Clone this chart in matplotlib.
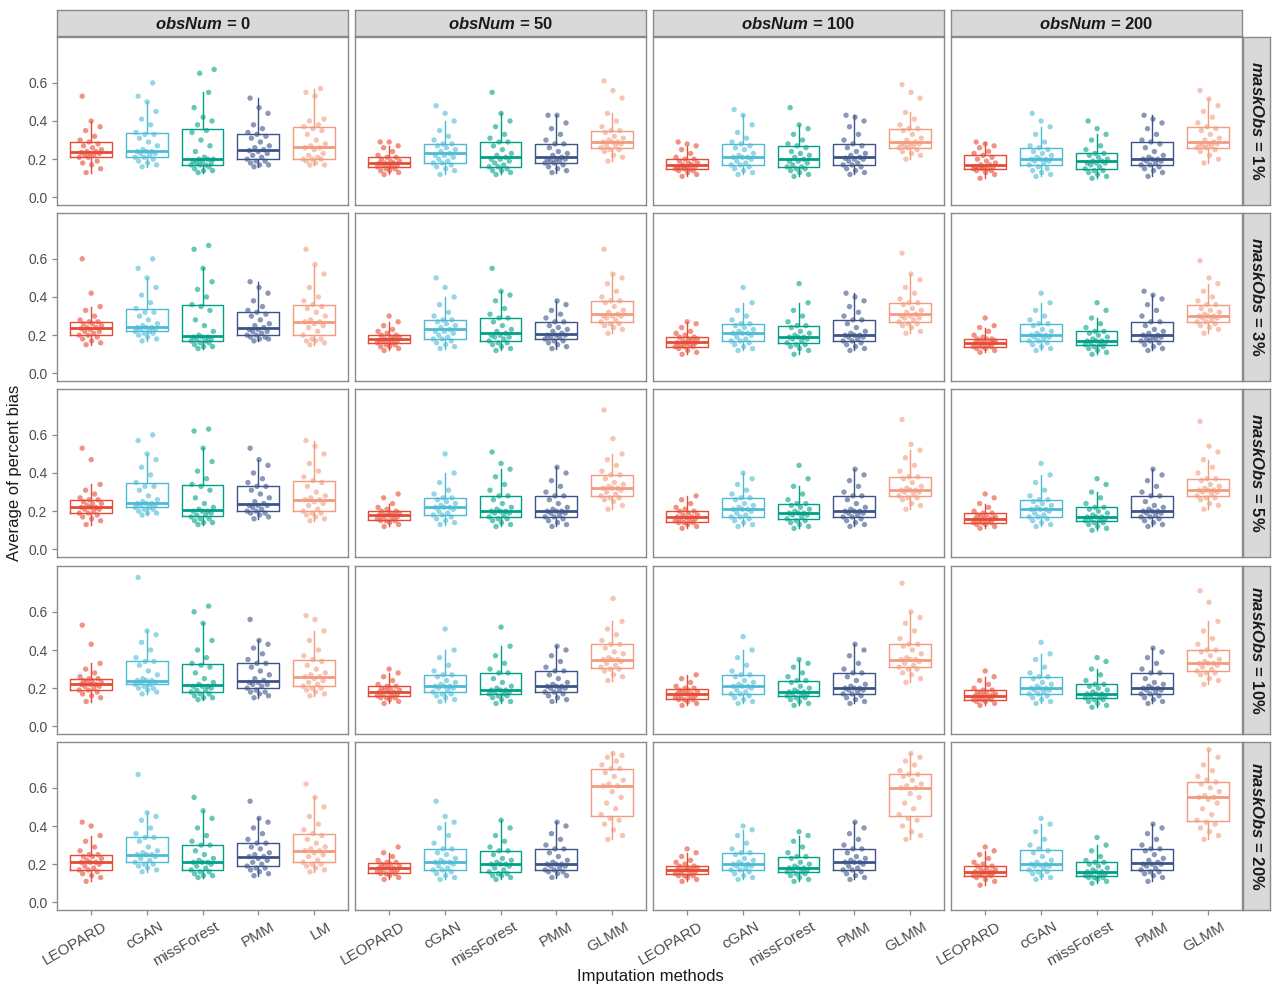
import matplotlib
matplotlib.use("Agg")
import matplotlib.pyplot as plt
import numpy as np

plt.rcParams['font.family'] = ['Liberation Sans', 'DejaVu Sans']
plt.rcParams['mathtext.fontset'] = 'custom'
plt.rcParams['mathtext.it'] = 'Liberation Sans:italic:bold'
plt.rcParams['mathtext.rm'] = 'Liberation Sans:bold'

# ---------------- data ----------------
obs_nums = [0, 50, 100, 200]
mask_obs = ["1%", "3%", "5%", "10%", "20%"]
methods_n0 = ["LEOPARD", "cGAN", "missForest", "PMM", "LM"]
methods_other = ["LEOPARD", "cGAN", "missForest", "PMM", "GLMM"]
colors = ["#E64B35", "#4DBBD5", "#00A087", "#3C5488", "#F39B7F"]
yticks = [0.0, 0.2, 0.4, 0.6]
ytick_labels = ["0.0", "0.2", "0.4", "0.6"]

# maskObs = 1%
m1_n0 = [
    [0.13,0.15,0.17,0.18,0.19,0.21,0.21,0.22,0.22,0.23,0.23,0.235,0.24,0.24,0.25,0.26,0.27,0.28,0.29,0.30,0.32,0.35,0.37,0.40,0.53],
    [0.16,0.17,0.18,0.19,0.20,0.21,0.21,0.22,0.23,0.23,0.24,0.24,0.24,0.25,0.27,0.29,0.31,0.33,0.33,0.34,0.38,0.41,0.45,0.50,0.53,0.60],
    [0.13,0.14,0.14,0.15,0.16,0.17,0.17,0.17,0.18,0.18,0.19,0.19,0.20,0.20,0.20,0.21,0.24,0.27,0.30,0.34,0.35,0.38,0.40,0.42,0.47,0.55,0.65,0.67],
    [0.16,0.17,0.17,0.18,0.19,0.19,0.20,0.21,0.22,0.23,0.24,0.245,0.25,0.26,0.27,0.29,0.31,0.32,0.33,0.34,0.36,0.38,0.44,0.47,0.52],
    [0.17,0.17,0.18,0.19,0.20,0.20,0.20,0.21,0.22,0.23,0.25,0.26,0.26,0.27,0.28,0.30,0.33,0.35,0.36,0.37,0.38,0.40,0.41,0.53,0.55,0.57],
]
m1_n50 = [
    [0.12,0.13,0.14,0.14,0.15,0.15,0.16,0.16,0.17,0.17,0.17,0.18,0.18,0.18,0.19,0.19,0.20,0.21,0.21,0.22,0.24,0.26,0.27,0.29,0.29],
    [0.12,0.14,0.15,0.16,0.17,0.18,0.18,0.19,0.20,0.21,0.22,0.22,0.23,0.24,0.25,0.26,0.27,0.28,0.28,0.30,0.32,0.35,0.40,0.44,0.48],
    [0.12,0.13,0.14,0.14,0.15,0.16,0.16,0.17,0.18,0.19,0.20,0.20,0.21,0.22,0.23,0.25,0.27,0.29,0.29,0.31,0.33,0.37,0.40,0.44,0.55],
    [0.13,0.14,0.15,0.16,0.17,0.18,0.18,0.19,0.19,0.20,0.20,0.20,0.21,0.22,0.23,0.24,0.26,0.28,0.28,0.30,0.33,0.36,0.39,0.43,0.43],
    [0.19,0.21,0.22,0.24,0.25,0.25,0.26,0.27,0.27,0.28,0.29,0.29,0.29,0.30,0.31,0.32,0.34,0.35,0.35,0.37,0.40,0.44,0.52,0.56,0.61],
]
m1_n100 = [
    [0.11,0.12,0.13,0.14,0.14,0.15,0.15,0.15,0.16,0.16,0.16,0.16,0.17,0.17,0.18,0.18,0.19,0.20,0.20,0.21,0.23,0.25,0.27,0.28,0.29],
    [0.12,0.13,0.14,0.15,0.16,0.17,0.17,0.18,0.19,0.20,0.21,0.21,0.21,0.22,0.23,0.25,0.26,0.27,0.28,0.29,0.31,0.34,0.38,0.43,0.46],
    [0.11,0.12,0.13,0.14,0.15,0.15,0.16,0.16,0.17,0.18,0.19,0.19,0.20,0.21,0.22,0.23,0.24,0.26,0.27,0.28,0.30,0.33,0.36,0.38,0.47],
    [0.12,0.13,0.14,0.15,0.16,0.17,0.17,0.18,0.19,0.20,0.20,0.205,0.21,0.22,0.23,0.24,0.26,0.27,0.28,0.30,0.33,0.37,0.40,0.42,0.43],
    [0.20,0.22,0.23,0.24,0.25,0.26,0.26,0.27,0.27,0.28,0.28,0.28,0.29,0.30,0.31,0.33,0.35,0.36,0.36,0.38,0.41,0.445,0.52,0.55,0.59],
]
m1_n200 = [
    [0.10,0.12,0.13,0.14,0.14,0.15,0.15,0.15,0.155,0.16,0.16,0.16,0.17,0.17,0.18,0.19,0.20,0.21,0.22,0.23,0.24,0.26,0.27,0.28,0.29],
    [0.11,0.12,0.13,0.14,0.15,0.16,0.17,0.18,0.19,0.19,0.20,0.20,0.20,0.21,0.22,0.23,0.24,0.25,0.26,0.27,0.29,0.33,0.37,0.40,0.44],
    [0.10,0.11,0.12,0.13,0.14,0.14,0.15,0.16,0.17,0.18,0.18,0.18,0.19,0.19,0.20,0.21,0.22,0.23,0.23,0.25,0.27,0.30,0.33,0.36,0.40],
    [0.11,0.13,0.14,0.15,0.16,0.17,0.17,0.18,0.19,0.19,0.20,0.20,0.20,0.21,0.22,0.24,0.26,0.28,0.29,0.30,0.33,0.36,0.39,0.41,0.43],
    [0.18,0.20,0.22,0.24,0.25,0.26,0.26,0.27,0.27,0.28,0.28,0.28,0.29,0.30,0.31,0.33,0.35,0.36,0.37,0.39,0.42,0.45,0.48,0.515,0.56],
]

# maskObs = 3%
m3_n0 = [
    [0.15,0.16,0.17,0.18,0.19,0.20,0.20,0.21,0.22,0.22,0.23,0.235,0.24,0.24,0.25,0.26,0.26,0.27,0.27,0.28,0.30,0.33,0.35,0.42,0.60],
    [0.17,0.18,0.19,0.20,0.21,0.21,0.22,0.22,0.23,0.23,0.24,0.24,0.24,0.25,0.26,0.28,0.30,0.32,0.32,0.34,0.37,0.41,0.45,0.50,0.55,0.60],
    [0.13,0.14,0.14,0.15,0.16,0.16,0.17,0.17,0.18,0.18,0.19,0.19,0.19,0.20,0.22,0.25,0.28,0.33,0.35,0.36,0.40,0.44,0.48,0.55,0.65,0.67],
    [0.17,0.18,0.18,0.19,0.19,0.20,0.20,0.21,0.22,0.22,0.23,0.23,0.24,0.25,0.26,0.28,0.30,0.31,0.32,0.33,0.35,0.38,0.42,0.45,0.48],
    [0.15,0.16,0.17,0.17,0.18,0.18,0.20,0.22,0.24,0.25,0.26,0.27,0.27,0.28,0.30,0.32,0.34,0.35,0.36,0.38,0.40,0.45,0.52,0.57,0.65],
]
m3_n50 = [
    [0.12,0.13,0.14,0.14,0.15,0.15,0.16,0.16,0.17,0.17,0.17,0.175,0.18,0.18,0.19,0.19,0.20,0.20,0.21,0.22,0.23,0.25,0.27,0.30],
    [0.13,0.14,0.15,0.16,0.17,0.18,0.18,0.19,0.20,0.21,0.22,0.22,0.23,0.24,0.25,0.26,0.27,0.28,0.28,0.30,0.32,0.36,0.40,0.45,0.50],
    [0.12,0.13,0.14,0.15,0.16,0.16,0.17,0.18,0.19,0.19,0.20,0.20,0.21,0.22,0.23,0.25,0.27,0.29,0.29,0.31,0.34,0.38,0.41,0.43,0.55],
    [0.13,0.14,0.15,0.16,0.17,0.17,0.18,0.19,0.19,0.20,0.20,0.20,0.21,0.22,0.23,0.24,0.25,0.27,0.27,0.29,0.31,0.33,0.36,0.38],
    [0.21,0.23,0.24,0.25,0.26,0.26,0.27,0.28,0.29,0.30,0.30,0.30,0.31,0.32,0.33,0.35,0.37,0.38,0.38,0.40,0.43,0.47,0.50,0.52,0.65],
]
m3_n100 = [
    [0.10,0.11,0.12,0.13,0.14,0.14,0.14,0.15,0.15,0.16,0.16,0.16,0.17,0.17,0.18,0.18,0.19,0.19,0.20,0.21,0.22,0.24,0.26,0.27],
    [0.12,0.13,0.14,0.15,0.16,0.17,0.17,0.18,0.19,0.20,0.21,0.21,0.21,0.22,0.23,0.24,0.25,0.26,0.26,0.28,0.30,0.33,0.37,0.45],
    [0.10,0.12,0.13,0.14,0.15,0.15,0.16,0.17,0.18,0.18,0.19,0.19,0.19,0.20,0.21,0.22,0.24,0.25,0.25,0.27,0.30,0.33,0.37,0.47],
    [0.12,0.13,0.14,0.15,0.16,0.17,0.17,0.18,0.19,0.19,0.20,0.20,0.20,0.21,0.22,0.24,0.26,0.28,0.28,0.30,0.32,0.35,0.38,0.40,0.42],
    [0.21,0.22,0.24,0.25,0.26,0.26,0.27,0.28,0.29,0.29,0.30,0.30,0.31,0.32,0.33,0.34,0.36,0.37,0.37,0.39,0.42,0.45,0.49,0.52,0.63],
]
m3_n200 = [
    [0.11,0.12,0.13,0.13,0.14,0.14,0.14,0.15,0.15,0.16,0.16,0.16,0.16,0.17,0.17,0.18,0.18,0.18,0.19,0.20,0.22,0.24,0.25,0.29],
    [0.12,0.13,0.14,0.15,0.16,0.17,0.17,0.18,0.19,0.19,0.20,0.20,0.20,0.21,0.22,0.23,0.25,0.26,0.26,0.28,0.30,0.33,0.37,0.42],
    [0.10,0.11,0.12,0.13,0.14,0.14,0.15,0.15,0.16,0.16,0.17,0.17,0.17,0.18,0.19,0.20,0.21,0.22,0.22,0.24,0.26,0.29,0.33,0.37],
    [0.12,0.13,0.14,0.15,0.16,0.17,0.17,0.18,0.18,0.19,0.19,0.20,0.20,0.21,0.22,0.23,0.25,0.27,0.27,0.30,0.33,0.36,0.39,0.41,0.43],
    [0.21,0.23,0.24,0.25,0.26,0.27,0.27,0.28,0.29,0.29,0.30,0.30,0.30,0.31,0.32,0.33,0.34,0.36,0.36,0.38,0.40,0.43,0.47,0.50,0.59],
]

# maskObs = 5%
m5_n0 = [
    [0.13,0.15,0.16,0.17,0.18,0.19,0.19,0.20,0.21,0.21,0.22,0.22,0.22,0.23,0.24,0.24,0.25,0.26,0.26,0.27,0.29,0.31,0.34,0.47,0.53],
    [0.18,0.19,0.19,0.20,0.21,0.21,0.22,0.22,0.23,0.23,0.24,0.24,0.24,0.25,0.26,0.28,0.31,0.33,0.33,0.35,0.39,0.43,0.47,0.50,0.57,0.60],
    [0.13,0.14,0.14,0.15,0.16,0.16,0.17,0.18,0.18,0.19,0.20,0.20,0.20,0.21,0.22,0.24,0.27,0.31,0.33,0.34,0.37,0.41,0.46,0.53,0.62,0.63],
    [0.16,0.17,0.18,0.19,0.19,0.20,0.20,0.21,0.22,0.23,0.23,0.23,0.24,0.25,0.27,0.29,0.31,0.33,0.33,0.35,0.37,0.40,0.44,0.47,0.53],
    [0.15,0.16,0.17,0.18,0.19,0.19,0.20,0.21,0.23,0.24,0.25,0.26,0.26,0.27,0.28,0.30,0.33,0.35,0.36,0.38,0.41,0.45,0.50,0.54,0.57],
]
m5_n50 = [
    [0.12,0.13,0.14,0.15,0.15,0.15,0.16,0.16,0.17,0.17,0.18,0.18,0.18,0.18,0.19,0.19,0.20,0.20,0.21,0.22,0.24,0.27,0.29],
    [0.13,0.14,0.15,0.16,0.17,0.18,0.18,0.19,0.20,0.21,0.22,0.22,0.22,0.23,0.24,0.25,0.26,0.27,0.27,0.29,0.31,0.35,0.40,0.50],
    [0.12,0.13,0.14,0.15,0.16,0.16,0.17,0.18,0.19,0.19,0.20,0.20,0.20,0.21,0.22,0.24,0.26,0.28,0.28,0.31,0.34,0.38,0.42,0.45,0.51],
    [0.12,0.13,0.14,0.15,0.16,0.17,0.17,0.18,0.19,0.19,0.20,0.20,0.20,0.21,0.22,0.24,0.26,0.28,0.28,0.30,0.33,0.36,0.40,0.43],
    [0.21,0.23,0.25,0.26,0.27,0.27,0.28,0.29,0.30,0.31,0.32,0.32,0.32,0.33,0.34,0.35,0.37,0.39,0.39,0.41,0.44,0.47,0.50,0.58,0.73],
]
m5_n100 = [
    [0.11,0.12,0.13,0.14,0.14,0.14,0.15,0.15,0.16,0.16,0.165,0.17,0.17,0.18,0.18,0.19,0.20,0.20,0.21,0.22,0.24,0.26,0.28],
    [0.12,0.13,0.14,0.15,0.16,0.17,0.17,0.18,0.19,0.20,0.21,0.21,0.21,0.22,0.23,0.24,0.26,0.27,0.27,0.29,0.31,0.34,0.37,0.40],
    [0.11,0.12,0.13,0.14,0.15,0.15,0.16,0.17,0.18,0.18,0.19,0.19,0.19,0.20,0.21,0.22,0.23,0.24,0.24,0.26,0.29,0.33,0.37,0.44],
    [0.12,0.13,0.14,0.15,0.16,0.17,0.17,0.18,0.19,0.19,0.20,0.20,0.20,0.21,0.22,0.24,0.26,0.28,0.28,0.30,0.33,0.36,0.39,0.42],
    [0.21,0.23,0.24,0.26,0.27,0.27,0.28,0.29,0.30,0.30,0.31,0.31,0.31,0.32,0.33,0.35,0.37,0.38,0.38,0.41,0.44,0.48,0.52,0.55,0.68],
]
m5_n200 = [
    [0.11,0.12,0.13,0.13,0.14,0.14,0.14,0.15,0.15,0.16,0.16,0.16,0.16,0.17,0.17,0.18,0.18,0.19,0.19,0.20,0.22,0.24,0.27,0.29],
    [0.12,0.13,0.14,0.15,0.16,0.17,0.17,0.18,0.19,0.20,0.21,0.21,0.21,0.22,0.23,0.24,0.25,0.26,0.26,0.28,0.31,0.35,0.39,0.45],
    [0.10,0.11,0.12,0.13,0.14,0.14,0.15,0.15,0.16,0.16,0.17,0.17,0.17,0.18,0.19,0.20,0.21,0.22,0.22,0.24,0.27,0.30,0.34,0.37],
    [0.12,0.13,0.14,0.15,0.16,0.17,0.17,0.18,0.19,0.19,0.20,0.20,0.20,0.21,0.22,0.23,0.25,0.28,0.28,0.30,0.33,0.36,0.39,0.42],
    [0.21,0.23,0.24,0.26,0.27,0.27,0.28,0.29,0.30,0.30,0.31,0.31,0.31,0.32,0.33,0.34,0.36,0.37,0.37,0.40,0.43,0.47,0.51,0.54,0.67],
]

# maskObs = 10%
m10_n0 = [
    [0.13,0.15,0.16,0.17,0.18,0.19,0.19,0.20,0.21,0.21,0.22,0.22,0.22,0.23,0.23,0.24,0.24,0.25,0.25,0.26,0.28,0.30,0.33,0.43,0.53],
    [0.17,0.18,0.19,0.20,0.20,0.21,0.22,0.22,0.23,0.23,0.24,0.24,0.24,0.25,0.27,0.29,0.32,0.34,0.34,0.36,0.40,0.44,0.48,0.50,0.78],
    [0.14,0.15,0.15,0.16,0.17,0.17,0.18,0.19,0.19,0.20,0.21,0.21,0.21,0.22,0.23,0.25,0.28,0.31,0.32,0.33,0.36,0.40,0.45,0.54,0.60,0.63],
    [0.15,0.16,0.17,0.18,0.18,0.19,0.20,0.21,0.22,0.22,0.23,0.23,0.24,0.25,0.27,0.29,0.31,0.33,0.33,0.35,0.38,0.41,0.43,0.45,0.56],
    [0.16,0.17,0.18,0.19,0.20,0.20,0.21,0.22,0.23,0.24,0.25,0.26,0.26,0.27,0.28,0.30,0.32,0.34,0.35,0.37,0.40,0.45,0.50,0.56,0.58],
]
m10_n50 = [
    [0.12,0.13,0.14,0.15,0.15,0.15,0.16,0.16,0.17,0.17,0.18,0.18,0.18,0.19,0.19,0.20,0.20,0.21,0.21,0.22,0.24,0.26,0.28,0.30],
    [0.13,0.14,0.15,0.16,0.17,0.17,0.18,0.19,0.20,0.20,0.21,0.21,0.21,0.22,0.23,0.24,0.26,0.27,0.27,0.29,0.32,0.36,0.40,0.51],
    [0.12,0.13,0.14,0.15,0.16,0.16,0.17,0.17,0.18,0.18,0.19,0.19,0.19,0.20,0.21,0.23,0.25,0.28,0.28,0.30,0.33,0.37,0.42,0.52],
    [0.13,0.14,0.15,0.16,0.17,0.18,0.18,0.19,0.20,0.20,0.21,0.21,0.21,0.22,0.23,0.25,0.27,0.29,0.29,0.31,0.34,0.37,0.40,0.42],
    [0.24,0.26,0.27,0.29,0.30,0.30,0.31,0.32,0.33,0.34,0.35,0.35,0.35,0.36,0.38,0.39,0.41,0.43,0.43,0.45,0.48,0.51,0.55,0.67],
]
m10_n100 = [
    [0.11,0.12,0.13,0.14,0.14,0.14,0.15,0.15,0.16,0.16,0.17,0.17,0.17,0.18,0.18,0.19,0.19,0.20,0.20,0.21,0.23,0.25,0.27],
    [0.12,0.13,0.14,0.15,0.16,0.17,0.17,0.18,0.19,0.20,0.21,0.21,0.21,0.22,0.23,0.24,0.26,0.27,0.27,0.29,0.32,0.36,0.40,0.47],
    [0.11,0.12,0.13,0.14,0.15,0.15,0.16,0.16,0.17,0.17,0.18,0.18,0.18,0.19,0.20,0.21,0.23,0.24,0.24,0.26,0.28,0.31,0.33,0.35],
    [0.12,0.13,0.14,0.15,0.16,0.17,0.17,0.18,0.19,0.19,0.20,0.20,0.20,0.21,0.22,0.24,0.26,0.28,0.28,0.30,0.33,0.37,0.40,0.43],
    [0.23,0.25,0.27,0.28,0.30,0.30,0.31,0.32,0.33,0.34,0.35,0.35,0.35,0.36,0.38,0.40,0.42,0.43,0.43,0.46,0.50,0.54,0.57,0.60,0.75],
]
m10_n200 = [
    [0.11,0.12,0.13,0.13,0.14,0.14,0.14,0.15,0.15,0.16,0.16,0.16,0.16,0.17,0.17,0.18,0.18,0.19,0.19,0.20,0.22,0.24,0.26,0.29],
    [0.12,0.13,0.14,0.15,0.16,0.17,0.17,0.18,0.19,0.19,0.20,0.20,0.20,0.21,0.22,0.23,0.25,0.26,0.26,0.28,0.31,0.35,0.38,0.44],
    [0.10,0.11,0.12,0.13,0.14,0.14,0.15,0.15,0.16,0.16,0.17,0.17,0.17,0.18,0.19,0.20,0.21,0.22,0.22,0.24,0.27,0.30,0.34,0.36],
    [0.12,0.13,0.14,0.15,0.16,0.17,0.17,0.18,0.19,0.19,0.20,0.20,0.20,0.21,0.22,0.23,0.25,0.28,0.28,0.30,0.33,0.36,0.39,0.41],
    [0.22,0.24,0.25,0.27,0.28,0.28,0.29,0.30,0.31,0.32,0.33,0.33,0.33,0.34,0.35,0.37,0.39,0.40,0.40,0.43,0.46,0.50,0.55,0.65,0.71],
]

# maskObs = 20%
m20_n0 = [
    [0.11,0.13,0.14,0.15,0.16,0.17,0.17,0.18,0.19,0.20,0.21,0.21,0.21,0.22,0.23,0.24,0.24,0.25,0.25,0.27,0.29,0.32,0.35,0.40,0.42],
    [0.16,0.17,0.18,0.19,0.20,0.20,0.21,0.22,0.23,0.24,0.25,0.25,0.25,0.26,0.27,0.29,0.32,0.34,0.34,0.36,0.39,0.43,0.45,0.47,0.67],
    [0.13,0.14,0.14,0.15,0.16,0.16,0.17,0.18,0.19,0.20,0.21,0.21,0.21,0.22,0.23,0.25,0.27,0.30,0.30,0.32,0.35,0.39,0.44,0.48,0.55],
    [0.14,0.15,0.16,0.17,0.18,0.18,0.19,0.20,0.21,0.22,0.23,0.24,0.24,0.25,0.26,0.28,0.29,0.31,0.31,0.33,0.36,0.39,0.42,0.44,0.53],
    [0.16,0.17,0.18,0.19,0.20,0.20,0.21,0.22,0.24,0.25,0.26,0.27,0.27,0.28,0.29,0.31,0.33,0.35,0.36,0.38,0.41,0.45,0.50,0.55,0.62],
]
m20_n50 = [
    [0.12,0.13,0.14,0.15,0.15,0.15,0.16,0.16,0.17,0.17,0.18,0.18,0.18,0.19,0.19,0.20,0.20,0.21,0.21,0.22,0.24,0.26,0.29],
    [0.12,0.13,0.14,0.15,0.16,0.17,0.17,0.18,0.19,0.20,0.21,0.21,0.21,0.22,0.23,0.25,0.26,0.28,0.28,0.31,0.35,0.39,0.42,0.45,0.53],
    [0.12,0.13,0.14,0.14,0.15,0.15,0.16,0.17,0.18,0.19,0.20,0.20,0.20,0.21,0.22,0.23,0.25,0.27,0.27,0.29,0.32,0.35,0.39,0.43],
    [0.13,0.14,0.15,0.16,0.16,0.17,0.17,0.18,0.19,0.19,0.20,0.20,0.20,0.21,0.22,0.24,0.26,0.28,0.28,0.30,0.33,0.36,0.40,0.42],
    [0.33,0.35,0.38,0.41,0.43,0.44,0.46,0.49,0.52,0.55,0.58,0.61,0.61,0.62,0.64,0.66,0.68,0.70,0.70,0.72,0.74,0.76,0.77,0.78],
]
m20_n100 = [
    [0.11,0.12,0.13,0.14,0.14,0.14,0.15,0.15,0.16,0.16,0.17,0.17,0.17,0.17,0.18,0.18,0.19,0.19,0.20,0.21,0.22,0.24,0.26,0.28],
    [0.12,0.13,0.14,0.15,0.16,0.17,0.17,0.18,0.19,0.19,0.20,0.20,0.20,0.21,0.22,0.23,0.25,0.26,0.26,0.28,0.31,0.35,0.38,0.40],
    [0.11,0.12,0.13,0.14,0.15,0.15,0.16,0.16,0.17,0.17,0.18,0.18,0.18,0.19,0.20,0.21,0.23,0.24,0.24,0.26,0.29,0.32,0.35,0.37],
    [0.12,0.13,0.14,0.15,0.16,0.17,0.17,0.18,0.19,0.20,0.21,0.21,0.21,0.22,0.23,0.24,0.26,0.28,0.28,0.30,0.33,0.36,0.39,0.42],
    [0.33,0.35,0.37,0.40,0.43,0.44,0.46,0.49,0.52,0.55,0.57,0.60,0.60,0.61,0.62,0.64,0.66,0.67,0.67,0.69,0.72,0.74,0.76,0.78],
]
m20_n200 = [
    [0.09,0.11,0.12,0.13,0.14,0.14,0.14,0.15,0.15,0.155,0.16,0.16,0.16,0.17,0.17,0.18,0.19,0.19,0.20,0.21,0.23,0.25,0.27,0.29],
    [0.12,0.13,0.14,0.15,0.16,0.16,0.17,0.18,0.19,0.19,0.195,0.20,0.20,0.21,0.22,0.24,0.26,0.27,0.28,0.30,0.33,0.37,0.41,0.44],
    [0.10,0.11,0.12,0.13,0.13,0.13,0.14,0.14,0.15,0.15,0.16,0.16,0.16,0.17,0.18,0.19,0.20,0.21,0.21,0.22,0.24,0.27,0.30,0.34],
    [0.11,0.13,0.14,0.15,0.16,0.16,0.17,0.18,0.19,0.20,0.20,0.20,0.21,0.22,0.23,0.25,0.27,0.28,0.28,0.30,0.33,0.36,0.39,0.41],
    [0.33,0.35,0.37,0.39,0.41,0.42,0.43,0.46,0.49,0.52,0.54,0.55,0.55,0.56,0.58,0.60,0.62,0.63,0.64,0.66,0.69,0.72,0.76,0.80],
]

grid = [
    [m1_n0, m1_n50, m1_n100, m1_n200],
    [m3_n0, m3_n50, m3_n100, m3_n200],
    [m5_n0, m5_n50, m5_n100, m5_n200],
    [m10_n0, m10_n50, m10_n100, m10_n200],
    [m20_n0, m20_n50, m20_n100, m20_n200],
]

# ---------------- layout ----------------
W, H = 1280, 996
fig = plt.figure(figsize=(W / 100, H / 100), dpi=100)
fig.patch.set_facecolor("white")

col_left = [57, 355, 653, 951]
panel_w = 291
row_top = [37, 213, 389, 566, 742]
panel_h = 168
strip_top_y = 10
strip_h = 26
strip_right_x = 1243
strip_w = 27
border = "#8a8a8a"
strip_fill = "#D9D9D9"
tick_col = "#4D4D4D"


def fig_rect(x, y, w, h):
    return [x / W, 1 - (y + h) / H, w / W, h / H]


def jitter(n):
    # deterministic, evenly scrambled horizontal offsets (layout only)
    k = np.arange(n)
    return ((k * 0.6180339887 + 0.31) % 1.0 - 0.5) * 0.42


for r in range(5):
    for c in range(4):
        ax = fig.add_axes(fig_rect(col_left[c], row_top[r], panel_w, panel_h))
        groups = grid[r][c]
        for i, vals in enumerate(groups):
            pos = i + 1
            col = colors[i]
            ax.boxplot([vals], positions=[pos], widths=0.75, showfliers=False,
                       showcaps=False, manage_ticks=False,
                       boxprops=dict(color=col, lw=1.0),
                       whiskerprops=dict(color=col, lw=1.0),
                       medianprops=dict(color=col, lw=2.0),
                       zorder=2)
            v = np.asarray(vals)
            ax.scatter(pos + jitter(len(v)), v, s=15, color=col, alpha=0.6,
                       edgecolors="none", zorder=3)
        ax.set_xlim(0.4, 5.6)
        ax.set_ylim(-0.04, 0.84)
        for sp in ax.spines.values():
            sp.set_color(border)
            sp.set_linewidth(1.0)
        ax.set_yticks(yticks)
        ax.set_xticks([1, 2, 3, 4, 5])
        ax.tick_params(axis="both", colors=border, length=3.5, width=0.9,
                       labelcolor=tick_col, labelsize=10)
        if c == 0:
            ax.set_yticklabels(ytick_labels)
        else:
            ax.set_yticklabels([])
            ax.tick_params(axis="y", length=0)
        if r == 4:
            labs = methods_n0 if c == 0 else methods_other
            ax.set_xticklabels(labs, rotation=30, ha="right", va="top",
                               rotation_mode="anchor", fontsize=11)
            for t in ax.get_xticklabels():
                t.set_transform(t.get_transform() +
                                matplotlib.transforms.ScaledTranslation(12 / 100, 0, fig.dpi_scale_trans))
        else:
            ax.set_xticklabels([])
            ax.tick_params(axis="x", length=0)

        # top strips
        if r == 0:
            sax = fig.add_axes(fig_rect(col_left[c], strip_top_y, panel_w, strip_h))
            sax.set_facecolor(strip_fill)
            sax.set_xticks([]); sax.set_yticks([])
            for sp in sax.spines.values():
                sp.set_color(border); sp.set_linewidth(1.0)
            sax.text(0.5, 0.45, r"$\mathit{obsNum}$ = " + str(obs_nums[c]),
                     ha="center", va="center", fontsize=12, fontweight="bold",
                     color="#1a1a1a", transform=sax.transAxes)
        # right strips
        if c == 3:
            rax = fig.add_axes(fig_rect(strip_right_x, row_top[r], strip_w, panel_h))
            rax.set_facecolor(strip_fill)
            rax.set_xticks([]); rax.set_yticks([])
            for sp in rax.spines.values():
                sp.set_color(border); sp.set_linewidth(1.0)
            rax.text(0.5, 0.5, r"$\mathit{maskObs}$ = " + mask_obs[r],
                     ha="center", va="center", rotation=270, fontsize=12,
                     fontweight="bold", color="#1a1a1a", transform=rax.transAxes)

fig.text(15 / W, 1 - 473 / H, "Average of percent bias", rotation=90,
         ha="center", va="center", fontsize=12, color="#1a1a1a")
fig.text(650 / W, 1 - 976 / H, "Imputation methods", ha="center",
         va="center", fontsize=12, color="#1a1a1a")

fig.savefig("out.png", dpi=100, facecolor="white")
